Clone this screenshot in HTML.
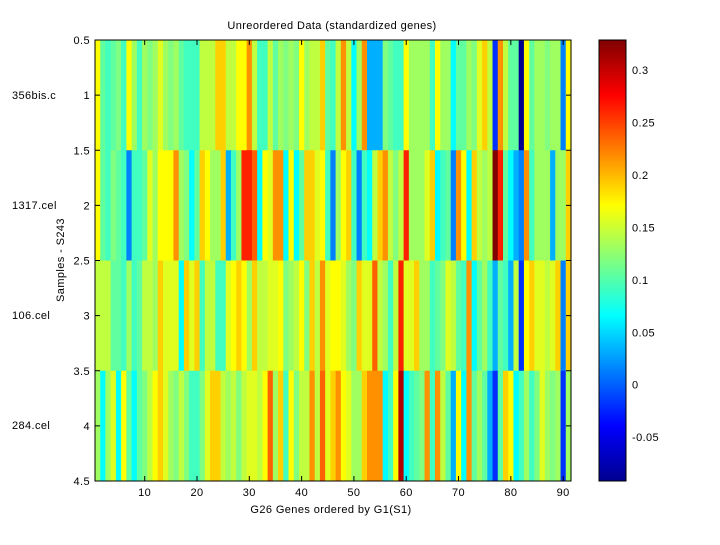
<!DOCTYPE html>
<html><head><meta charset="utf-8"><style>
body{margin:0;background:#fff;width:720px;height:540px;overflow:hidden}
svg text{font-family:"Liberation Sans",sans-serif;font-size:11px;fill:#000;letter-spacing:0.4px}
</style></head><body>
<svg id="s" width="720" height="540" xmlns="http://www.w3.org/2000/svg">
<defs><linearGradient id="jet" x1="0" y1="1" x2="0" y2="0">
<stop offset="0" stop-color="#00008f"/><stop offset="0.125" stop-color="#0000ff"/>
<stop offset="0.375" stop-color="#00ffff"/><stop offset="0.625" stop-color="#ffff00"/>
<stop offset="0.875" stop-color="#ff0000"/><stop offset="1" stop-color="#800000"/></linearGradient></defs>
<rect width="720" height="540" fill="#fff"/>
<g id="hm"></g>
<rect x="95" y="40" width="476" height="441" fill="none" stroke="#000"/>
<g id="ax" stroke="#000"></g>
<g id="lb"></g>
<text x="332" y="29" text-anchor="middle">Unreordered Data (standardized genes)</text>
<text x="331" y="513" text-anchor="middle">G26 Genes ordered by G1(S1)</text>
<text transform="translate(64,260) rotate(-90)" text-anchor="middle">Samples - S243</text>
<text x="12" y="99">356bis.c</text>
<text x="12" y="209">1317.cel</text>
<text x="12" y="319">106.cel</text>
<text x="12" y="429">284.cel</text>
<rect x="599" y="40" width="27" height="441" fill="url(#jet)" stroke="#000"/>
<g id="cb"></g>
</svg>
<script>
var C={B:"#00008f",b:"#0030ff",a:"#0080ff",s:"#00b0ff",c:"#00ffff",t:"#40ffc0",m:"#60ff9f",g:"#80ff80",l:"#a0ff60",k:"#c0ff40",y:"#e0ff20",Y:"#ffff00",o:"#ffd000",O:"#ff9000",r:"#ff6000",R:"#ff2000",d:"#b00000",D:"#800000"};
var R=[
"YmtmgtYltlglylglmtttkkkookkYYOk"+"ttkmlglgYlkkomtkOkclOsssgmttYl"+"llltYllcmmlgyokbOkmmBYmllgllaY",
"Ymtgmtattm"+"ylYYYOlgcm"+"oYllostlRR"+"r"+"cYyOOcYcmo"+"oyYtalYota"+"tckoOkgkRl"+"llyoctmaOY"+"coklkDRmcs"+"aOtlllsllo",
"kkkmmtltmk"+"kloyyycoyo"+"tkkttyYoYl"+"o"+"kkyyYglkYg"+"okOyYYylgo"+"yyrkltkRyy"+"olltmgykmt"+"Ocmltsmtsk"+"bYoyykyoao",
"lclycYmcmg"+"kYoylgkgtt"+"gyooklkgky"+"y"+"kYrlotYgkk"+"OkryoOYyll"+"oOOOctYdct"+"mgOtOkmsYc"+"OmlmsbmoYc"+"tltgylglbl"
];
var hm=document.getElementById("hm"),ns="http://www.w3.org/2000/svg",w=476/91;
for(var r=0;r<4;r++){var row=R[r];for(var i=0;i<91;i++){var ch=row[i]||"l";var e=document.createElementNS(ns,"rect");
e.setAttribute("x",95+i*w);e.setAttribute("y",40+r*110.25);e.setAttribute("width",w+0.6);e.setAttribute("height",110.6);e.setAttribute("fill",C[ch]||"#a0ff60");hm.appendChild(e);}}
var ax=document.getElementById("ax"),lb=document.getElementById("lb");
function L(x1,y1,x2,y2){var e=document.createElementNS(ns,"line");e.setAttribute("x1",x1);e.setAttribute("y1",y1);e.setAttribute("x2",x2);e.setAttribute("y2",y2);ax.appendChild(e);}
function T(x,y,s,a,p){var e=document.createElementNS(ns,"text");e.setAttribute("x",x);e.setAttribute("y",y);e.setAttribute("text-anchor",a);e.textContent=s;p.appendChild(e);}
for(var v=10;v<=90;v+=10){var x=95+(v-0.5)*w;L(x,40,x,45);L(x,481,x,476);T(x,496,v,"middle",lb);}
var ys=["0.5","1","1.5","2","2.5","3","3.5","4","4.5"];
for(var j=0;j<9;j++){var y=40+j*55.125;L(95,y,100,y);L(571,y,566,y);T(90,y+4,ys[j],"end",lb);}
var cb=document.getElementById("cb");
var cv=["0.3","0.25","0.2","0.15","0.1","0.05","0","-0.05"];
for(var k=0;k<8;k++){var y=70+k*52.45;L(599,y,603,y);L(626,y,622,y);T(632,y+4,cv[k],"start",cb);}
</script>
</body></html>
